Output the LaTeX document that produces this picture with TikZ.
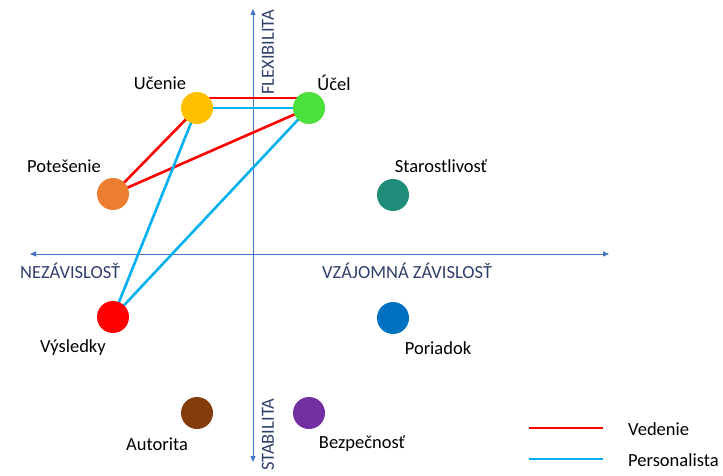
\documentclass[tikz,border=0pt]{standalone}
\usepackage{fontspec}
\setmainfont{Carlito}
\usetikzlibrary{arrows.meta,calc}
\definecolor{axisblue}{HTML}{4472C4}
\definecolor{axistext}{HTML}{2F3F6B}
\definecolor{cYellow}{HTML}{FFC000}
\definecolor{cGreen}{HTML}{4CE03C}
\definecolor{cOrange}{HTML}{ED7D31}
\definecolor{cTeal}{HTML}{1E8C78}
\definecolor{cRed}{HTML}{FF0000}
\definecolor{cBlue}{HTML}{0070C0}
\definecolor{cBrown}{HTML}{843C0C}
\definecolor{cPurple}{HTML}{7030A0}
\definecolor{lRed}{HTML}{FF0000}
\definecolor{lBlue}{HTML}{00B0F0}
\tikzset{
  axis/.style={draw=axisblue, line width=0.9pt, -{Triangle[length=6pt,width=5pt]}},
  axlabel/.style={text=axistext, font=\fontsize{18.5}{18.5}\selectfont, inner sep=0pt},
  dot/.style={circle, minimum size=32pt, inner sep=0pt, fill=#1},
  lbl/.style={font=\fontsize{18.5}{18.5}\selectfont, inner sep=0pt},
  redl/.style={draw=lRed, line width=2.6pt},
  bluel/.style={draw=lBlue, line width=2.6pt}
}
\begin{document}
\begin{tikzpicture}[x=1pt,y=-1pt]
\useasboundingbox (0,0) rectangle (723,476);
% axes
\coordinate (xl) at (30,254);
\coordinate (xr) at (609,254);
\coordinate (yt) at (253,9);
\coordinate (yb) at (253,462);
\draw[axis] (253,254) -- (xl);
\draw[axis] (253,254) -- (xr);
\draw[axis] (253,254) -- (yt);
\draw[axis] (253,254) -- (yb);
\node[axlabel, anchor=west] (nez) at (20,271) {NEZÁVISLOSŤ};
\node[axlabel, anchor=west] (vza) at (322,271) {VZÁJOMNÁ ZÁVISLOSŤ};
\node[axlabel, rotate=90, anchor=west] (flex) at (268,95) {FLEXIBILITA};
\node[axlabel, rotate=90, anchor=west] (stab) at (268,471) {STABILITA};
% node positions
\coordinate (pu) at (197,108);
\coordinate (pc) at (309,108);
\coordinate (pp) at (113,194);
\coordinate (pv) at (113,317);
% lines (behind dots)
\draw[redl] ($(pu)+(0,-10)$) -- ($(pc)+(0,-10)$);
\draw[redl] (pu) -- (pp);
\draw[redl] (pp) -- (pc);
\draw[bluel] (pu) -- (pc);
\draw[bluel] (pu) -- (pv);
\draw[bluel] (pv) -- (pc);
% dots
\node[dot=cYellow] (ucenie) at (pu) {};
\node[dot=cGreen] (ucel) at (pc) {};
\node[dot=cOrange] (potesenie) at (pp) {};
\node[dot=cTeal] (staro) at (393,195) {};
\node[dot=cRed] (vysledky) at (pv) {};
\node[dot=cBlue] (poriadok) at (393,318) {};
\node[dot=cBrown] (autorita) at (197,413) {};
\node[dot=cPurple] (bezp) at (309,413) {};
% labels
\node[lbl] (lu) at (160,83) {Učenie};
\node[lbl] (lc) at (334,83) {Účel};
\node[lbl] (lp) at (64,166) {Potešenie};
\node[lbl] (ls) at (441,166) {Starostlivosť};
\node[lbl] (lv) at (73,348) {Výsledky};
\node[lbl] (lpo) at (438,348) {Poriadok};
\node[lbl] (la) at (157,444) {Autorita};
\node[lbl] (lb) at (362,444) {Bezpečnosť};
% legend
\coordinate (r1) at (529,428);
\coordinate (r2) at (603,428);
\coordinate (b1) at (529,459);
\coordinate (b2) at (603,459);
\draw[redl] (r1) -- (r2);
\draw[bluel] (b1) -- (b2);
\node[lbl, anchor=west] (lvd) at (628,429) {Vedenie};
\node[lbl, anchor=west] (lper) at (628,460) {Personalista};
\end{tikzpicture}
\end{document}
